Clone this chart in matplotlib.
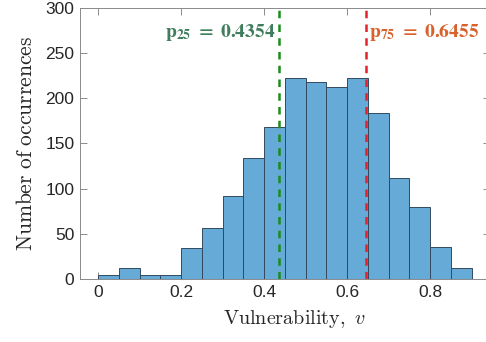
import matplotlib.pyplot as plt
import numpy as np

plt.rcParams['mathtext.fontset'] = 'cm'
plt.rcParams['font.family'] = ['Liberation Sans', 'DejaVu Sans']

bin_edges = np.arange(0, 0.9001, 0.05)
counts = [4, 12, 4, 4, 34, 56, 92, 134, 168, 222, 218, 212, 222, 184, 112, 80, 36, 12]
p25 = 0.4354
p75 = 0.6455

fig = plt.figure(figsize=(4.86, 3.42), dpi=100)
# the right edge of the box runs just past the picture, as in the original
ax = fig.add_axes([0.1646, 0.184, 0.8436, 0.793])

ax.bar(bin_edges[:-1], counts, width=0.05, align='edge',
       color='#66aad7', edgecolor='#34495e', linewidth=0.7, zorder=2)
ax.axvline(p25, color='#1a8c1a', ls=(0, (3, 2.5)), lw=1.8, zorder=3)
ax.axvline(p75, color='#e3232b', ls=(0, (3, 2.5)), lw=1.8, zorder=3)

ax.text(p25 - 0.008, 273, r'$\mathbf{p_{25}\ =\ 0.4354}$', color='#3f7d5c',
        fontsize=14, ha='right', va='center', math_fontfamily='stix')
ax.text(p75 + 0.008, 273, r'$\mathbf{p_{75}\ =\ 0.6455}$', color='#d8622c',
        fontsize=14, ha='left', va='center', math_fontfamily='stix')

ax.set_xlim(-0.044, 0.944)
ax.set_ylim(0, 300)
ax.set_xticks([0, 0.2, 0.4, 0.6, 0.8])
ax.set_xticklabels(['0', '0.2', '0.4', '0.6', '0.8'])
ax.set_yticks(range(0, 301, 50))
ax.tick_params(direction='in', top=True, right=True, length=5, width=0.6,
               color='#7a7a7a', labelsize=12.5, labelcolor='#262626', pad=4)
for s in ax.spines.values():
    s.set_color('#8a8a8a')
    s.set_linewidth(0.7)

ax.set_xlabel(r'$\mathrm{Vulnerability,}\ v$', fontsize=14.5, color='#262626',
              labelpad=7)
ax.xaxis.set_label_coords(0.522, -0.105)
ax.set_ylabel(r'$\mathrm{Number\ of\ occurrences}$', fontsize=15.5, color='#262626',
              labelpad=6)

fig.savefig('out.png', dpi=100)
